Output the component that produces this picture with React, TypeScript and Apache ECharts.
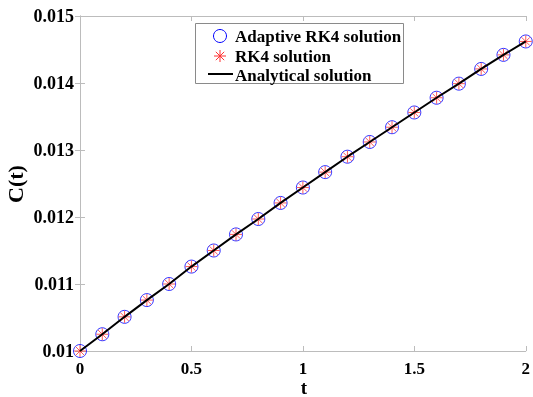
import React, { useEffect, useRef } from "react";
import * as echarts from "echarts";

const tValues = [0, 0.1, 0.2, 0.3, 0.4, 0.5, 0.6, 0.7, 0.8, 0.9, 1.0, 1.1, 1.2, 1.3, 1.4, 1.5, 1.6, 1.7, 1.8, 1.9, 2.0];
const adaptiveRK4 = [0.01, 0.01025, 0.01051, 0.01076, 0.011, 0.01126, 0.0115, 0.01174, 0.01197, 0.01221, 0.01244, 0.01267, 0.0129, 0.01312, 0.01334, 0.01356, 0.01378, 0.01399, 0.01421, 0.01442, 0.01462];
const rk4 = [0.01, 0.01025, 0.01051, 0.01076, 0.011, 0.01126, 0.0115, 0.01174, 0.01197, 0.01221, 0.01244, 0.01267, 0.0129, 0.01312, 0.01334, 0.01356, 0.01378, 0.01399, 0.01421, 0.01442, 0.01462];
const analytical = [0.01, 0.01025, 0.01051, 0.01076, 0.011, 0.01126, 0.0115, 0.01174, 0.01197, 0.01221, 0.01244, 0.01267, 0.0129, 0.01312, 0.01334, 0.01356, 0.01378, 0.01399, 0.01421, 0.01442, 0.01462];
const legendNames = ["Adaptive RK4 solution", "RK4 solution", "Analytical solution"];

const FONT = "'Liberation Serif', 'Times New Roman', serif";
const AXIS_COLOR = "#bcbcbc";
const STAR_PATH = "path://M10,0L10,20M0,10L20,10M3,3L17,17M3,17L17,3";

function starLines(cx: number, cy: number, r: number, color: string) {
  const d = r * 0.7;
  const segs = [
    [cx, cy - r, cx, cy + r],
    [cx - r, cy, cx + r, cy],
    [cx - d, cy - d, cx + d, cy + d],
    [cx - d, cy + d, cx + d, cy - d],
  ];
  return segs.map((s) => ({
    type: "line",
    shape: { x1: s[0], y1: s[1], x2: s[2], y2: s[3] },
    style: { stroke: color, lineWidth: 1 },
    z: 100,
  }));
}

export default function App() {
  const ref = useRef<HTMLDivElement>(null);
  useEffect(() => {
    if (!ref.current) return;
    const chart = echarts.init(ref.current, null, { renderer: "svg" });
    const pair = (ys: number[]) => tValues.map((t, i) => [t, ys[i]]);
    const labelStyle = { color: "#000", fontFamily: FONT, fontWeight: "bold", fontSize: 17 };
    const legendText = (x: number, y: number, text: string) => ({
      type: "text",
      x,
      y,
      style: { text, fill: "#000", font: `bold 17px ${FONT}`, textAlign: "left", textVerticalAlign: "middle" },
      z: 100,
    });
    chart.setOption({
      animation: false,
      grid: { left: 80, right: 6, top: 16, bottom: 46, containLabel: false },
      xAxis: [
        {
          type: "value",
          min: 0,
          max: 2,
          interval: 0.5,
          position: "bottom",
          axisLine: { show: true, lineStyle: { color: AXIS_COLOR, width: 1 } },
          axisTick: { show: true, inside: true, length: 5, lineStyle: { color: AXIS_COLOR } },
          splitLine: { show: false },
          axisLabel: { ...labelStyle, margin: 9, formatter: (v: number) => String(parseFloat(v.toFixed(2))) },
        },
        {
          type: "value",
          min: 0,
          max: 2,
          interval: 0.5,
          position: "top",
          axisLine: { show: true, lineStyle: { color: AXIS_COLOR, width: 1 } },
          axisTick: { show: true, inside: true, length: 5, lineStyle: { color: AXIS_COLOR } },
          splitLine: { show: false },
          axisLabel: { show: false },
        },
      ],
      yAxis: [
        {
          type: "value",
          min: 0.01,
          max: 0.015,
          interval: 0.001,
          position: "left",
          axisLine: { show: true, lineStyle: { color: AXIS_COLOR, width: 1 } },
          axisTick: { show: true, inside: true, length: 5, lineStyle: { color: AXIS_COLOR } },
          splitLine: { show: false },
          axisLabel: { ...labelStyle, fontSize: 18, margin: 6, formatter: (v: number) => String(parseFloat(v.toFixed(3))) },
        },
        {
          type: "value",
          min: 0.01,
          max: 0.015,
          interval: 0.001,
          position: "right",
          axisLine: { show: true, lineStyle: { color: AXIS_COLOR, width: 1 } },
          axisTick: { show: true, inside: true, length: 5, lineStyle: { color: AXIS_COLOR } },
          splitLine: { show: false },
          axisLabel: { show: false },
        },
      ],
      series: [
        {
          name: legendNames[0],
          type: "scatter",
          data: pair(adaptiveRK4),
          symbol: "circle",
          symbolSize: 13,
          itemStyle: { color: "rgba(0,0,0,0)", borderColor: "#0000ff", borderWidth: 1 },
          z: 2,
        },
        {
          name: legendNames[1],
          type: "scatter",
          data: pair(rk4),
          symbol: STAR_PATH,
          symbolSize: 12,
          itemStyle: { color: "rgba(0,0,0,0)", borderColor: "#ff3030", borderWidth: 1 },
          z: 3,
        },
        {
          name: legendNames[2],
          type: "line",
          data: pair(analytical),
          showSymbol: false,
          symbol: "none",
          lineStyle: { color: "#000", width: 2 },
          z: 4,
        },
      ],
      graphic: [
        {
          type: "text",
          x: 15,
          y: 184,
          rotation: Math.PI / 2,
          style: { text: "C(t)", fill: "#000", font: `bold 22px ${FONT}`, textAlign: "center", textVerticalAlign: "middle" },
        },
        {
          type: "text",
          x: 304,
          y: 387,
          style: { text: "t", fill: "#000", font: `bold 19px ${FONT}`, textAlign: "center", textVerticalAlign: "middle" },
        },
        {
          type: "rect",
          shape: { x: 195.5, y: 23.5, width: 208, height: 60 },
          style: { fill: "#fff", stroke: "#8a8a8a", lineWidth: 1 },
          z: 99,
        },
        {
          type: "circle",
          shape: { cx: 220, cy: 36, r: 6.5 },
          style: { fill: "none", stroke: "#0000ff", lineWidth: 1 },
          z: 100,
        },
        ...starLines(220, 56, 6, "#ff3030"),
        {
          type: "line",
          shape: { x1: 208, y1: 74, x2: 233, y2: 74 },
          style: { stroke: "#000", lineWidth: 2 },
          z: 100,
        },
        legendText(235, 36, legendNames[0]),
        legendText(235, 56, legendNames[1]),
        legendText(235, 75, legendNames[2]),
      ],
    });
    return () => chart.dispose();
  }, []);
  return <div ref={ref} style={{ position: "fixed", left: 0, top: 0, width: 533, height: 397 }} />;
}
